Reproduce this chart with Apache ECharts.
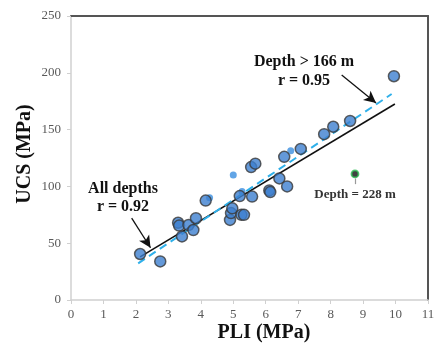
<!DOCTYPE html>
<html>
<head>
<meta charset="utf-8">
<script src="https://cdn.jsdelivr.net/npm/echarts@6/dist/echarts.min.js"></script>
<style>html,body{margin:0;padding:0;background:#fff}#c{width:438px;height:345px}</style>
</head>
<body>
<div id="c"></div>
<script>
// PLI (MPa), UCS (MPa) - all samples
const allDepthPoints = [
  [2.13, 40.5], [2.75, 34], [3.30, 68], [3.33, 65.5], [3.42, 56], [3.62, 66],
  [3.77, 61.6], [3.85, 72], [4.15, 87.5], [4.90, 70.5], [4.93, 76.5], [4.97, 80.7],
  [5.20, 91.5], [5.25, 75], [5.33, 75], [5.58, 91], [5.55, 117], [5.68, 120],
  [6.11, 96.5], [6.14, 95], [6.42, 107], [6.57, 126], [6.66, 100], [7.08, 133],
  [7.80, 146], [8.08, 152.5], [8.60, 157.6], [9.95, 197]
];
// small markers
const smallPoints = [[4.27, 90], [5.0, 110], [5.27, 95.5], [6.77, 131.4]];
// outlier, depth 228 m
const outlierPoint = [[8.75, 111]];
// trend line end points
const trendAll = [[2.13, 38], [9.98, 172.5]];
const trendDeep = [[2.07, 32.3], [9.88, 181.3]];
const xTicks = [0, 1, 2, 3, 4, 5, 6, 7, 8, 9, 10, 11];
const yTicks = [0, 50, 100, 150, 200, 250];

const serif = '"Liberation Serif", "Times New Roman", serif';
const chart = echarts.init(document.getElementById('c'));
const lbl = { fontFamily: serif, fontSize: 13, color: '#595959' };
chart.setOption({
  animation: false,
  grid: { left: 71, right: 10, top: 16, bottom: 45 },
  xAxis: [{
    type: 'value', min: xTicks[0], max: xTicks[xTicks.length - 1], interval: 1,
    axisLine: { onZero: false, lineStyle: { color: '#d0d0d0', width: 1.5 } },
    axisTick: { show: true, length: 4, lineStyle: { color: '#d0d0d0' } },
    axisLabel: Object.assign({ margin: 8 }, lbl),
    splitLine: { show: false }
  }, {
    type: 'value', position: 'top', min: 0, max: 11,
    axisLine: { show: true, onZero: false, lineStyle: { color: '#555', width: 2 } },
    axisTick: { show: false }, axisLabel: { show: false }, splitLine: { show: false }
  }],
  yAxis: [{
    type: 'value', min: yTicks[0], max: yTicks[yTicks.length - 1], interval: 50,
    axisLine: { show: true, onZero: false, lineStyle: { color: '#d0d0d0', width: 1.5 } },
    axisTick: { show: true, length: 4, lineStyle: { color: '#d0d0d0' } },
    axisLabel: Object.assign({ margin: 10 }, lbl),
    splitLine: { show: false }
  }, {
    type: 'value', position: 'right', min: 0, max: 250,
    axisLine: { show: true, onZero: false, lineStyle: { color: '#555', width: 2 } },
    axisTick: { show: false }, axisLabel: { show: false }, splitLine: { show: false }
  }],
  series: [
    {
      type: 'line', data: trendAll, symbol: 'none', z: 3,
      lineStyle: { color: '#111', width: 1.6 }
    },
    {
      type: 'line', data: trendDeep, symbol: 'none', z: 3,
      lineStyle: { color: '#2fb0ea', width: 2, type: [8, 5] }
    },
    {
      type: 'scatter', data: smallPoints, symbolSize: 7, z: 2,
      itemStyle: { color: '#3b8fe0' }
    },
    {
      type: 'scatter', data: allDepthPoints, symbolSize: 11, z: 4,
      itemStyle: { color: '#3d7fd0', borderColor: '#3a3a3a', borderWidth: 1.5 }
    },
    {
      type: 'scatter', data: outlierPoint, symbolSize: 7, z: 5,
      itemStyle: { color: '#111', borderColor: '#2fbf55', borderWidth: 1.8 },
      markLine: {
        silent: true, symbol: ['none', 'none'],
        lineStyle: { color: '#999', width: 1.2, type: 'solid' },
        label: { show: false },
        data: [[{ coord: [8.75, 107] }, { coord: [8.75, 102] }]]
      }
    },
    {
      type: 'scatter', data: [],
      markLine: {
        silent: true, symbol: ['none', 'arrow'], symbolSize: [9, 12],
        lineStyle: { color: '#111', width: 1.3, type: 'solid' },
        label: { show: false },
        data: [
          [{ coord: [1.87, 72] }, { coord: [2.45, 46] }],
          [{ coord: [8.34, 198] }, { coord: [9.4, 173.5] }]
        ]
      }
    }
  ],
  graphic: [
    { type: 'text', x: 123, y: 189, style: { text: 'All depths', font: 'bold 16px ' + serif, fill: '#111', align: 'center', verticalAlign: 'middle' } },
    { type: 'text', x: 123, y: 207, style: { text: 'r = 0.92', font: 'bold 16px ' + serif, fill: '#111', align: 'center', verticalAlign: 'middle' } },
    { type: 'text', x: 304, y: 62, style: { text: 'Depth > 166 m', font: 'bold 16px ' + serif, fill: '#111', align: 'center', verticalAlign: 'middle' } },
    { type: 'text', x: 304, y: 81, style: { text: 'r = 0.95', font: 'bold 16px ' + serif, fill: '#111', align: 'center', verticalAlign: 'middle' } },
    { type: 'text', x: 355, y: 195, style: { text: 'Depth = 228 m', font: 'bold 13px ' + serif, fill: '#333', align: 'center', verticalAlign: 'middle' } },
    { type: 'text', x: 264, y: 333, style: { text: 'PLI (MPa)', font: 'bold 20px ' + serif, fill: '#111', align: 'center', verticalAlign: 'middle' } },
    { type: 'text', x: 25, y: 154, rotation: Math.PI / 2, style: { text: 'UCS (MPa)', font: 'bold 20px ' + serif, fill: '#111', align: 'center', verticalAlign: 'middle' } }
  ]
});
</script>
</body>
</html>
